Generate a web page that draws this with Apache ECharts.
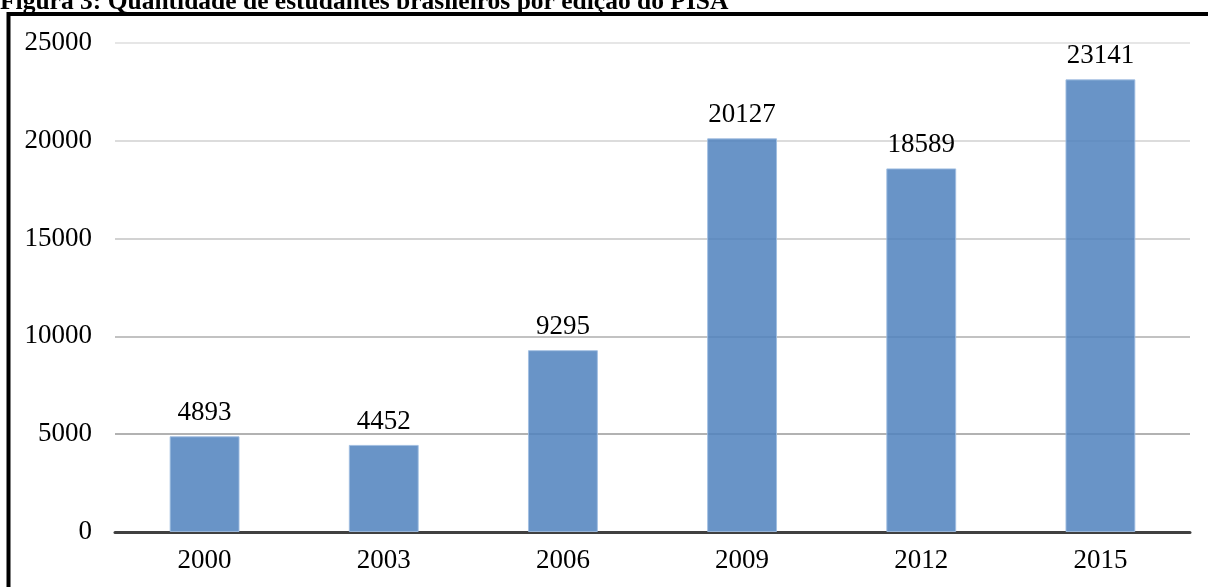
<!DOCTYPE html>
<html>
<head>
<meta charset="utf-8">
<script src="https://cdn.jsdelivr.net/npm/echarts@6/dist/echarts.min.js"></script>
<style>
  html, body { margin: 0; padding: 0; background: #fff; }
  #chart { width: 1208px; height: 587px; }
</style>
</head>
<body>
<div id="chart"></div>
<script>
// PISA editions and number of Brazilian students assessed
const years = ['2000', '2003', '2006', '2009', '2012', '2015'];
const students = [4893, 4452, 9295, 20127, 18589, 23141];
const titleText = 'Figura 3: Quantidade de estudantes brasileiros por edição do PISA';

const serif = '"Liberation Serif", "Times New Roman", serif';
const chart = echarts.init(document.getElementById('chart'));

chart.setOption({
  animation: false,
  backgroundColor: '#fff',
  title: {
    text: titleText,
    left: 0,
    top: -11,
    padding: 0,
    textStyle: { fontFamily: serif, fontWeight: 'bold', fontSize: 25.5, color: '#000' }
  },
  graphic: [{
    type: 'rect',
    shape: { x: 8.5, y: 14, width: 1260, height: 640 },
    style: { fill: 'none', stroke: '#000', lineWidth: 4 },
    silent: true,
    z: 100
  }],
  grid: { left: 115, right: 18, top: 43, bottom: 55, containLabel: false },
  xAxis: {
    type: 'category',
    data: years,
    axisTick: { show: false },
    axisLine: { show: true, lineStyle: { color: '#404040', width: 3 } },
    axisLabel: { fontFamily: serif, fontSize: 27, color: '#000', margin: 15 }
  },
  yAxis: {
    type: 'value',
    min: 0,
    max: 25000,
    interval: 5000,
    axisLine: { show: false },
    axisTick: { show: false },
    axisLabel: {
      fontFamily: serif, fontSize: 27, color: '#000', margin: 23,
      formatter: (v) => String(v)
    },
    splitLine: {
      lineStyle: {
        width: 2,
        color: ['#b0b0b0', '#b2b2b2', '#c2c2c2', '#d2d2d2', '#dcdcdc', '#e6e6e6']
      }
    }
  },
  series: [{
    type: 'bar',
    data: students,
    barWidth: '39%',
    itemStyle: {
      color: 'rgba(79,129,189,0.85)',
      borderColor: 'rgba(160,190,225,0.9)',
      borderWidth: 1
    },
    label: {
      show: true,
      position: 'top',
      distance: 10,
      fontFamily: serif,
      fontSize: 27,
      color: '#000'
    }
  }]
});
</script>
</body>
</html>
